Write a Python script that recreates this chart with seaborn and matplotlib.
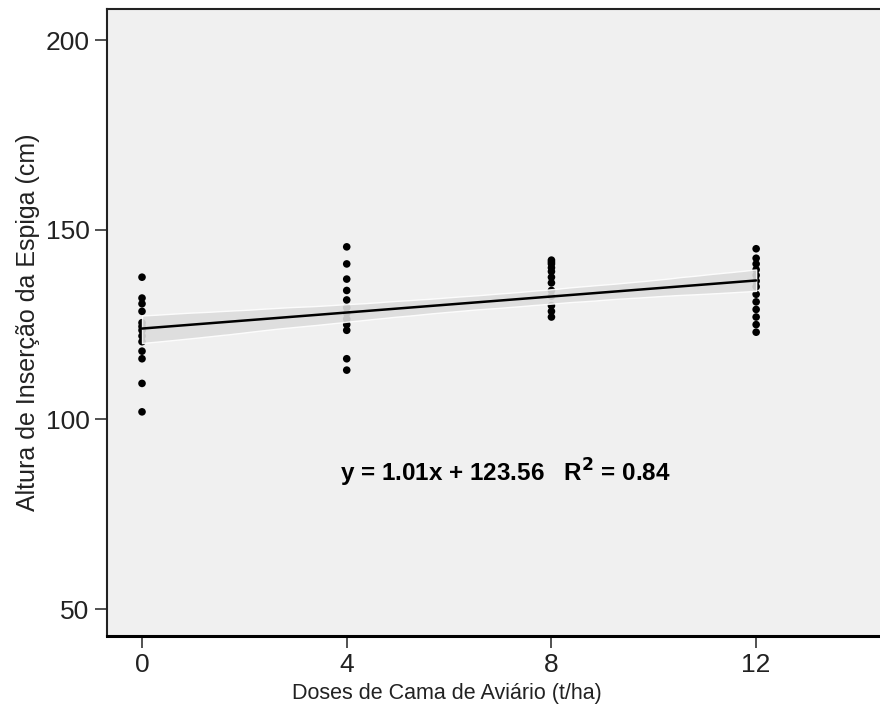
import matplotlib
matplotlib.use("Agg")
import matplotlib.pyplot as plt
import numpy as np
import pandas as pd
import seaborn as sns

# dados
doses = [0, 4, 8, 12]
altura_0 = [137.5, 132, 130.5, 128.5, 125.5, 124.5, 123.5, 122, 120.5, 118, 116, 109.5, 102]
altura_4 = [145.5, 141, 137, 134, 131.5, 129.5, 128, 126.5, 125, 123.5, 116, 113]
altura_8 = [142, 141.5, 141, 140, 139, 137.5, 136, 134, 132.5, 130, 128.5, 127]
altura_12 = [145, 142.5, 141, 139.5, 138, 136.5, 135, 133, 131, 129, 127, 125, 123]
equacao = "y = 1.01x + 123.56   R$^\\mathbf{2}$ = 0.84"

grupos = [altura_0, altura_4, altura_8, altura_12]
df = pd.DataFrame({
    "dose": np.concatenate([[d] * len(g) for d, g in zip(doses, grupos)]),
    "altura": np.concatenate(grupos),
})

sns.set_theme(style="white")
plt.rcParams["font.family"] = ["Liberation Sans", "DejaVu Sans"]

fig = plt.figure(figsize=(8.8, 7.16), dpi=100)
ax = fig.add_axes([0.1216, 0.1117, 0.8784, 0.8757])
ax.set_facecolor("#f0f0f0")

sns.regplot(data=df, x="dose", y="altura", ax=ax, ci=90, truncate=True,
            scatter_kws={"s": 30, "color": "black", "edgecolor": "none", "alpha": 1},
            line_kws={"color": "black", "lw": 1.8})
for coll in ax.collections[1:]:
    coll.set_facecolor("#dcdcdc")
    coll.set_alpha(0.9)

ax.text(7.1, 86, equacao, ha="center", va="center", fontsize=17.5, fontweight="bold", color="black")

ax.set_xlim(-0.684, 14.42)
ax.set_ylim(42.9, 208.2)
ax.set_xticks(doses)
ax.set_yticks([50, 100, 150, 200])
ax.set_xlabel("Doses de Cama de Aviário (t/ha)", fontsize=15.5, color="#222222")
ax.xaxis.set_label_coords(0.44, -0.075)
ax.set_ylabel("Altura de Inserção da Espiga (cm)", fontsize=18, color="#222222", labelpad=4)
ax.tick_params(axis="both", direction="out", length=8.5, width=1.2, color="#333333",
               labelsize=19, labelcolor="#222222", left=True, bottom=True, pad=4)
for lado in ["left", "top"]:
    ax.spines[lado].set_color("#222222")
    ax.spines[lado].set_linewidth(1.5)
ax.spines["bottom"].set_color("black")
ax.spines["bottom"].set_linewidth(2.2)
ax.spines["right"].set_visible(False)

plt.savefig("out.png", dpi=100)
